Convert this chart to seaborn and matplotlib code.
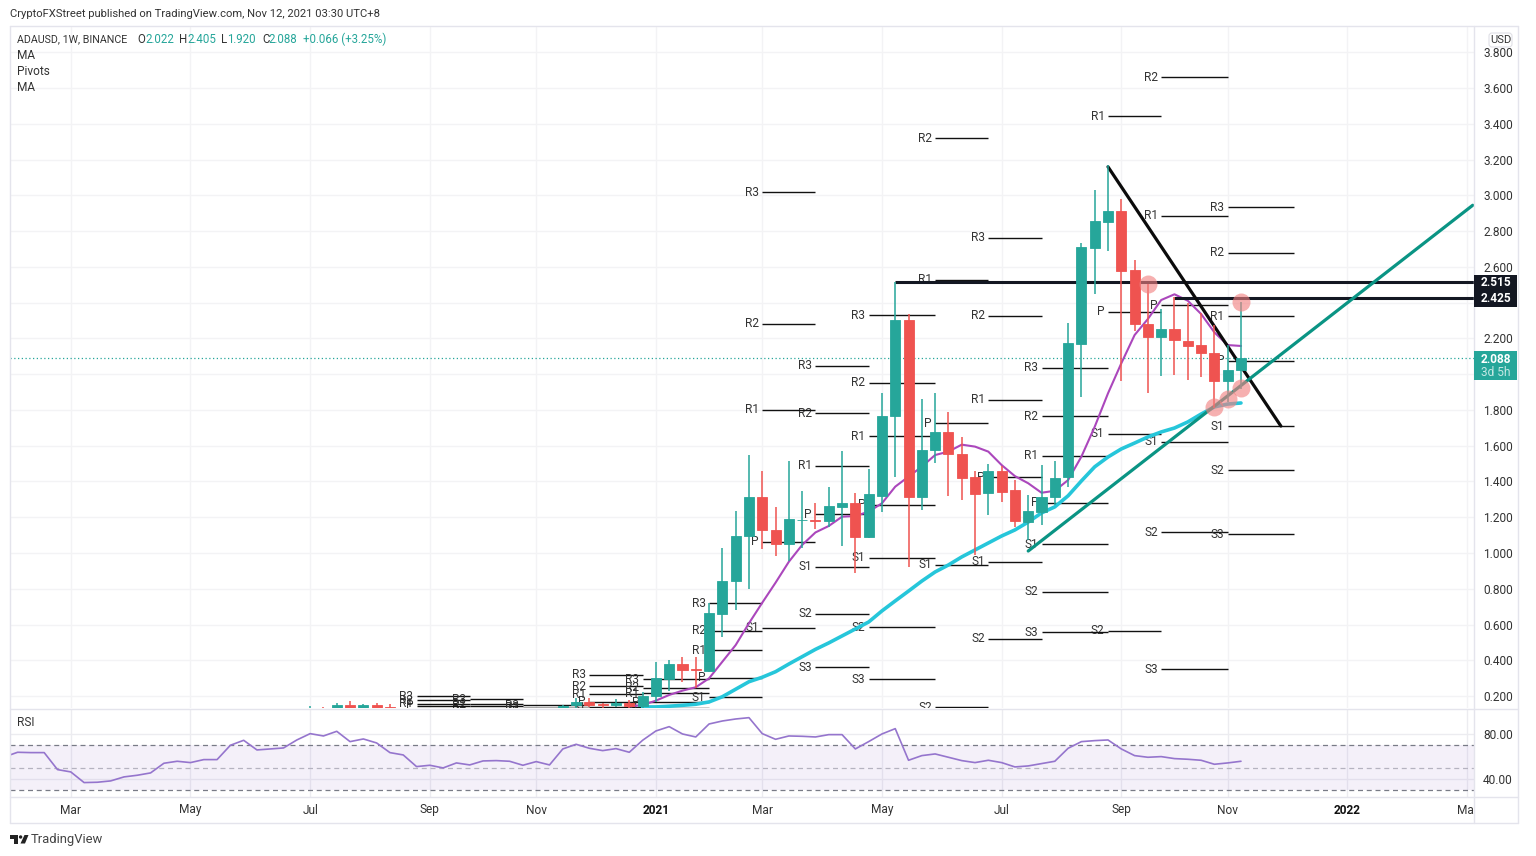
"""ADAUSD weekly chart, TradingView style, with pivots, MAs and RSI."""
import numpy as np
import pandas as pd
import matplotlib
matplotlib.use('Agg')
import matplotlib.pyplot as plt
from matplotlib.patches import Rectangle, Polygon, Circle, FancyBboxPatch
import seaborn as sns

# ── Data ──────────────────────────────────────────────────────────────────────
opens = [.100, .130, .125, .148, .134, .148, .140,
         .125, .110, .090, .090, .100, .095, .100, .105, .105, .110, .105, .100,
         .120, .148, .167, .155, .150, .161, .146,
         .202, .295, .379, .350, .342, .660, .845, 1.097, 1.313, 1.129, 1.049, 1.185, 1.185,
         1.180, 1.259, 1.278, 1.091, 1.320, 1.765, 2.303, 1.313, 1.576, 1.675, 1.555, 1.423, 1.337,
         1.460, 1.352, 1.173, 1.229, 1.313, 1.423, 2.171, 2.708, 2.853, 2.913, 2.583, 2.281, 2.206,
         2.254, 2.187, 2.161, 2.119, 1.964, 2.022]
highs = [.143, .140, .163, .174, .157, .160, .155,
         .130, .125, .110, .110, .110, .110, .110, .115, .115, .118, .112, .122,
         .152, .190, .188, .160, .185, .180, .221,
         .389, .402, .417, .420, .719, 1.026, 1.235, 1.548, 1.459, 1.256, 1.515, 1.347, 1.278,
         1.367, 1.571, 1.334, 1.468, 1.893, 2.517, 2.335, 1.861, 1.893, 1.787, 1.650, 1.460, 1.498,
         1.487, 1.408, 1.325, 1.490, 1.514, 2.288, 2.735, 3.030, 3.170, 2.982, 2.637, 2.504, 2.363,
         2.433, 2.396, 2.341, 2.275, 2.163, 2.405]
lows = [.090, .120, .120, .125, .120, .125, .120,
        .105, .085, .080, .085, .090, .090, .095, .098, .100, .100, .095, .095,
        .115, .128, .137, .130, .140, .135, .135,
        .168, .230, .277, .243, .336, .529, .681, .797, 1.024, .985, .954, 1.026, 1.133,
        1.147, 1.037, .890, 1.082, 1.228, 1.427, .923, 1.240, 1.505, 1.320, 1.296, .989, 1.213,
        1.287, 1.147, 1.070, 1.157, 1.270, 1.367, 1.874, 2.449, 2.689, 1.964, 2.242, 1.897, 1.990,
        1.995, 1.967, 1.986, 1.809, 1.846, 1.920]
closes = [.130, .125, .148, .133, .148, .135, .135,
          .110, .090, .090, .100, .095, .100, .105, .105, .110, .105, .100, .120,
          .146, .167, .152, .148, .161, .146, .202,
          .299, .379, .347, .344, .663, .845, 1.097, 1.313, 1.129, 1.049, 1.188, 1.187, 1.180,
          1.263, 1.278, 1.091, 1.330, 1.766, 2.303, 1.313, 1.576, 1.675, 1.555, 1.421, 1.332, 1.460,
          1.343, 1.179, 1.235, 1.313, 1.420, 2.172, 2.710, 2.857, 2.913, 2.579, 2.279, 2.206, 2.251,
          2.191, 2.159, 2.117, 1.964, 2.022, 2.088]
candle_start = '2020-07-06'

ma_fast = [.142, .150, .174, .206, .230, .249, .299, .392, .485, .607, .722, .834, .951, 1.045, 1.115,
           1.151, 1.203, 1.207, 1.231, 1.278, 1.371, 1.427, 1.483, 1.548, 1.567, 1.606, 1.595, 1.567,
           1.492, 1.430, 1.390, 1.337, 1.348, 1.408, 1.539, 1.706, 1.893, 2.061, 2.219, 2.309, 2.415,
           2.447, 2.411, 2.337, 2.234, 2.163, 2.158]
ma_fast_start = '2020-12-21'
ma_slow = [.139, .139, .143, .148, .154, .167, .196, .238, .280, .305, .336, .379, .420, .461,
           .497, .536, .575, .614, .676, .732, .787, .843, .894, .933, .978, 1.017, 1.056,
           1.095, 1.129, 1.173, 1.224, 1.258, 1.320, 1.403, 1.482, 1.537, 1.582, 1.615, 1.649, 1.677,
           1.699, 1.733, 1.777, 1.817, 1.833, 1.839]
ma_slow_start = '2020-12-28'

pivot_dates = ['2020-08-31', '2020-09-28', '2020-10-26', '2020-11-30', '2020-12-28', '2021-02-01',
               '2021-03-01', '2021-03-29', '2021-04-26', '2021-05-31', '2021-06-28', '2021-07-26',
               '2021-08-30', '2021-09-27', '2021-11-01', '2021-12-06']
nan = np.nan
pivot_r3 = [.199, .182, .148, .318, .294, .719, 3.019, 2.046, 2.331, nan, 2.762, 2.035, nan, nan, 2.935]
pivot_r2 = [.176, .155, .135, .256, .247, .565, 2.281, 1.783, 1.951, 3.321, 2.326, 1.766, nan, 3.662, 2.678]
pivot_r1 = [.157, .144, .134, .211, .215, .456, 1.800, 1.487, 1.654, 2.527, 1.856, 1.544, 3.444, 2.885, 2.325]
pivot_p = [.146, nan, nan, .167, .165, .303, 1.062, 1.218, 1.270, 1.727, 1.425, 1.280, 2.348, 2.387, 2.074]
pivot_s1 = [nan, nan, nan, .137, .135, .193, .581, .922, .972, .933, .950, 1.050, 1.666, 1.621, 1.710]
pivot_s2 = [nan, nan, nan, nan, nan, nan, nan, .659, .586, .138, .519, .782, .564, 1.117, 1.464]
pivot_s3 = [nan, nan, nan, nan, nan, nan, nan, .362, .295, nan, nan, .558, nan, .351, 1.106]
pivot_levels = {'R3': pivot_r3, 'R2': pivot_r2, 'R1': pivot_r1, 'P': pivot_p,
                'S1': pivot_s1, 'S2': pivot_s2, 'S3': pivot_s3}

level_values = [2.515, 2.425]
level_starts = ['2021-05-10', '2021-10-04']
falling_dates = ['2021-08-30', '2021-11-29']
falling_values = [3.160, 1.710]
rising_dates = ['2021-07-19', '2022-03-10']
rising_values = [1.011, 2.945]
touch_dates = ['2021-09-20', '2021-11-08', '2021-10-25', '2021-11-01', '2021-11-08']
touch_values = [2.503, 2.406, 1.815, 1.861, 1.923]

rsi = [59.6, 63.8, 63.5, 63.5, 48.2, 46.1, 36.5, 36.8, 38.0, 41.6, 43.1, 45.2, 53.9, 55.7, 54.5, 57.2,
       57.2, 70.1, 74.6, 65.9, 66.8, 67.7, 74.9, 80.6, 78.5, 82.7, 73.4, 75.8, 72.2, 63.5, 61.4, 50.9,
       52.1, 49.7, 54.2, 52.4, 56.0, 56.3, 55.7, 52.1, 55.4, 52.4, 66.8, 71.0, 67.4, 65.3, 67.1, 63.8,
       74.6, 83.0, 86.9, 80.3, 77.6, 89.3, 92.0, 93.8, 95.0, 80.6, 75.5, 78.5, 78.2, 77.6, 79.7, 79.7,
       66.8, 73.4, 80.3, 85.1, 56.6, 60.8, 62.3, 59.3, 56.3, 54.5, 56.6, 54.5, 50.6, 51.5, 53.6, 55.7,
       67.4, 73.4, 74.3, 74.9, 66.8, 60.8, 59.3, 59.9, 58.1, 57.5, 56.6, 53.0, 54.2, 55.7]
rsi_start = '2020-01-27'

price_ticks = [.2, .4, .6, .8, 1.0, 1.2, 1.4, 1.6, 1.8, 2.0, 2.2, 2.4, 2.6, 2.8, 3.0, 3.2, 3.4, 3.6, 3.8]
hidden_price_ticks = [2.0, 2.4]
rsi_ticks = [40, 80]
month_dates = ['2020-03-02', '2020-05-04', '2020-07-06', '2020-09-07', '2020-11-02', '2021-01-04',
               '2021-03-01', '2021-05-03', '2021-07-05', '2021-09-06', '2021-11-01', '2022-01-03',
               '2022-03-07']
month_labels = ['Mar', 'May', 'Jul', 'Sep', 'Nov', '2021', 'Mar', 'May', 'Jul', 'Sep', 'Nov', '2022', 'Mar']

# ── Style ─────────────────────────────────────────────────────────────────────
W, H = 1536, 856
UP = '#26a69a'; DOWN = '#ef5350'; TEXT = '#333333'; GRID = '#f3f3f5'; FRAME = '#e4e4ec'
sns.set_theme(style='white', rc={'axes.edgecolor': 'none', 'axes.linewidth': 0})
plt.rcParams['font.family'] = ['Roboto', 'DejaVu Sans']
FS = 8.6

def pane(left, top, right, bottom):
    return fig.add_axes([left / W, 1 - bottom / H, (right - left) / W, (bottom - top) / H])

fig = plt.figure(figsize=(W / 100, H / 100), dpi=100, facecolor='white')
ax = pane(10, 27, 1474, 708)
ax_rsi = pane(10, 709, 1474, 797)
xlim = (pd.Timestamp('2020-01-30'), pd.Timestamp('2022-03-10 16:00'))
months = pd.to_datetime(month_dates)

# ── Price pane ────────────────────────────────────────────────────────────────
ax.set_xlim(xlim)
ax.set_ylim(0.133, 3.942)
ax.set_xticks(months)
ax.set_yticks(price_ticks)
ax.set_yticklabels(['' if t in hidden_price_ticks else f'{t:.3f}' for t in price_ticks])
ax.yaxis.tick_right()
ax.tick_params(axis='y', length=0, pad=6.5, labelsize=FS, labelcolor=TEXT)
ax.tick_params(axis='x', length=0, labelbottom=False)
ax.grid(True, color=GRID, lw=1)
ax.set_axisbelow(True)

# pivots
pivot_edges = pd.to_datetime(pivot_dates)
for name, vals in pivot_levels.items():
    for i, val in enumerate(vals):
        if np.isnan(val):
            continue
        ax.hlines(val, pivot_edges[i], pivot_edges[i + 1], color='#111111', lw=1.0, zorder=2)
        ax.annotate(name, (pivot_edges[i], val), xytext=(-2.5, 0), textcoords='offset points',
                    ha='right', va='center', fontsize=FS, color=TEXT, zorder=2,
                    annotation_clip=False, clip_on=True)

# moving averages
fast_x = pd.date_range(ma_fast_start, periods=len(ma_fast), freq='7D')
slow_x = pd.date_range(ma_slow_start, periods=len(ma_slow), freq='7D')
sns.lineplot(x=slow_x, y=ma_slow, ax=ax, color='#26c6da', lw=2.6, zorder=3, legend=False)
sns.lineplot(x=fast_x, y=ma_fast, ax=ax, color='#ab47bc', lw=1.5, zorder=3, legend=False)

# drawings
ax.axhline(2.088, color=UP, lw=0.9, ls=(0, (1, 2)), zorder=3)
for val, start in zip(level_values, level_starts):
    ax.hlines(val, pd.Timestamp(start), xlim[1], color='#131722', lw=2.2, zorder=3)
sns.lineplot(x=pd.to_datetime(falling_dates), y=falling_values, ax=ax, color='#0b0b0b', lw=2.3,
             zorder=3, legend=False)
sns.lineplot(x=pd.to_datetime(rising_dates), y=rising_values, ax=ax, color='#0a9484', lw=2.3,
             zorder=3, legend=False)

# candles
weeks = pd.date_range(candle_start, periods=len(opens), freq='7D')
o = np.array(opens); c = np.array(closes)
cols = [UP if up else DOWN for up in c >= o]
ax.vlines(weeks, lows, highs, colors=cols, lw=1.1, zorder=4)
ax.bar(weeks, np.abs(c - o), bottom=np.minimum(o, c), width=5.3, color=cols, edgecolor=cols,
       linewidth=0.6, zorder=5)

# touch points
sns.scatterplot(x=pd.to_datetime(touch_dates), y=touch_values, ax=ax, s=168, color='#f28080',
                alpha=0.62, linewidth=0, zorder=6, legend=False)
ax.set_xlim(xlim)
ax.set_ylim(0.133, 3.942)

# ── RSI pane ──────────────────────────────────────────────────────────────────
rsi_x = pd.date_range(rsi_start, periods=len(rsi), freq='7D')
ax_rsi.axhspan(30, 70, color='#9575cd', alpha=0.1, lw=0, zorder=1)
for lvl, col in ((70, '#787b86'), (50, '#b5b3c0'), (30, '#787b86')):
    ax_rsi.axhline(lvl, color=col, lw=0.9, ls=(0, (4, 3)), zorder=2)
sns.lineplot(x=rsi_x, y=rsi, ax=ax_rsi, color='#9575cd', lw=1.2, zorder=3, legend=False)
ax_rsi.set_xlim(xlim)
ax_rsi.set_ylim(23.5, 102.8)
ax_rsi.set_xticks(months)
ax_rsi.set_yticks(rsi_ticks)
ax_rsi.set_yticklabels([f'{t:.2f}' for t in rsi_ticks])
ax_rsi.yaxis.tick_right()
ax_rsi.tick_params(axis='y', length=0, pad=6.5, labelsize=FS, labelcolor=TEXT)
ax_rsi.tick_params(axis='x', length=0, labelbottom=False)
ax_rsi.grid(True, color='#ececf0', lw=1)
ax_rsi.set_axisbelow(True)
ax_rsi.set_xlabel(''); ax_rsi.set_ylabel('')

# ── Time strip ────────────────────────────────────────────────────────────────
ax_time = pane(10, 797, 1474, 823)
ax_time.set_xlim(xlim); ax_time.set_ylim(0, 1)
ax_time.axis('off')
for d, lab in zip(months, month_labels):
    year = lab.isdigit()
    ax_time.text(d, 0.5, lab, ha='center', va='center', fontsize=FS, color='#111111' if year else TEXT,
                 fontweight='bold' if year else 'normal', clip_on=True)

# ── Overlay in pixel coordinates: frame, axis tags, header, logo ──────────────
ov = fig.add_axes([0, 0, 1, 1], zorder=10)
ov.set_xlim(0, W); ov.set_ylim(H, 0)
ov.axis('off')
ov.patch.set_alpha(0)

for x0, y0, x1, y1 in [(10, 26, 1518, 26), (10, 823, 1518, 823), (10, 26, 10, 823), (1518, 26, 1518, 823),
                       (1474, 26, 1474, 823), (10, 708.5, 1518, 708.5), (10, 797, 1518, 797)]:
    ov.plot([x0, x1], [y0, y1], color=FRAME, lw=1, zorder=1)

ov.add_patch(Rectangle((1474, 275), 43, 32, color='#131722', lw=0, zorder=3))
ov.add_patch(Rectangle((1474, 351), 43, 29, color=UP, lw=0, zorder=3))
for y, s, col in [(283, '2.515', 'white'), (299, '2.425', 'white'), (359, '2.088', 'white'), (372, '3d 5h', '#c5e8e4')]:
    ov.text(1495.5, y, s, ha='center', va='center', fontsize=FS, color=col, fontweight='bold' if col == 'white' else 'normal', zorder=4)
ov.add_patch(FancyBboxPatch((1489, 33), 23, 14, boxstyle='round,pad=0,rounding_size=3', fc='white', ec='#e0e0e6', lw=0.8, zorder=3))
ov.text(1500.5, 40, 'USD', ha='center', va='center', fontsize=FS - 0.6, color=TEXT, zorder=4)

ov.text(10, 13.5, 'CryptoFXStreet published on TradingView.com, Nov 12, 2021 03:30 UTC+8',
        va='center', fontsize=8.15, color=TEXT)
ov.text(17, 39.5, 'ADAUSD, 1W, BINANCE', va='center', fontsize=7.7, color=TEXT)
for x, s, col in [(137, 'O', TEXT), (145, '2.022', UP), (179, 'H', TEXT), (187, '2.405', UP),
                  (221, 'L', TEXT), (227, '1.920', UP), (262, 'C', TEXT), (268, '2.088', UP), (303, '+0.066 (+3.25%)', UP)]:
    ov.text(x, 39.5, s, va='center', fontsize=8.3, color=col)
for y, s in [(55.5, 'MA'), (71.5, 'Pivots'), (87.5, 'MA'), (723, 'RSI')]:
    ov.text(17, y, s, va='center', fontsize=FS, color=TEXT)

ov.add_patch(Polygon([(10, 835), (18, 835), (18, 843.5), (14, 843.5), (14, 839), (10, 839)], color='#222222', lw=0))
ov.add_patch(Circle((20.6, 837), 1.7, color='#222222', lw=0))
ov.add_patch(Polygon([(24.5, 835), (28.5, 835), (25, 843.5), (20.5, 843.5)], color='#222222', lw=0))
ov.text(31, 839.5, 'TradingView', va='center', fontsize=9.4, color='#444444')

fig.savefig('out.png', dpi=100, facecolor='white')
